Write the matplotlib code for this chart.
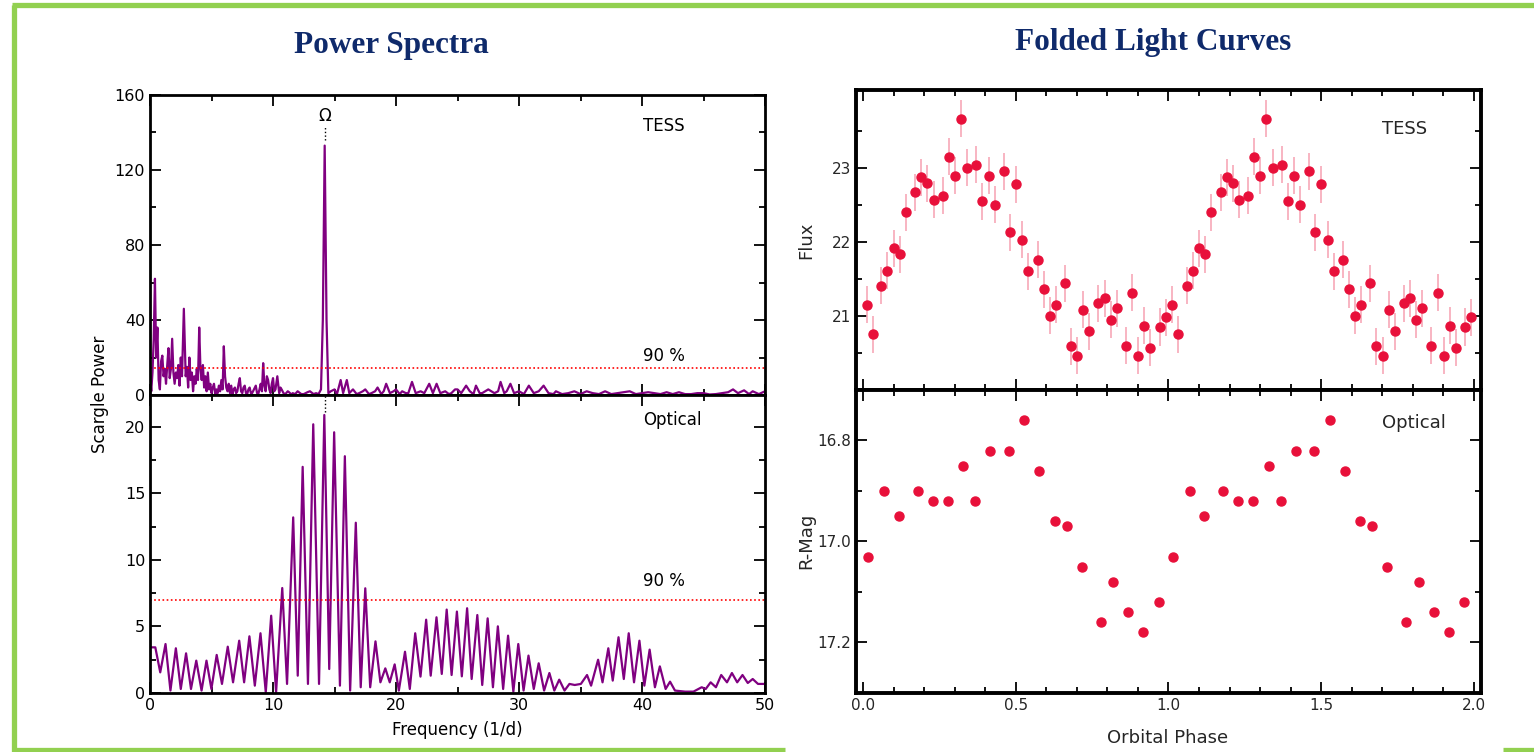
import numpy as np
import matplotlib
matplotlib.use("Agg")
import matplotlib.pyplot as plt
from matplotlib.lines import Line2D
from matplotlib.ticker import MultipleLocator, FixedLocator, FormatStrFormatter

# ---- TESS Lomb-Scargle power spectrum (frequency, power) ----
tess_spectrum = [
    (0.0, 10), (0.1, 2), (0.2, 12), (0.3, 30), (0.4, 62), (0.5, 20), (0.6, 36), (0.7, 8),
    (0.8, 3), (0.9, 18), (1.0, 21), (1.1, 10), (1.2, 14), (1.3, 6), (1.4, 16), (1.5, 25),
    (1.6, 9), (1.7, 14), (1.8, 30), (1.9, 12), (2.0, 6), (2.1, 12), (2.2, 9), (2.3, 16),
    (2.4, 5), (2.5, 20), (2.6, 10), (2.75, 46), (2.9, 10), (3.0, 15), (3.1, 4), (3.2, 20),
    (3.3, 8), (3.4, 12), (3.5, 2), (3.6, 10), (3.7, 6), (3.8, 14), (3.9, 8), (4.0, 36),
    (4.1, 14), (4.2, 8), (4.3, 16), (4.4, 4), (4.5, 10), (4.6, 2), (4.7, 12), (4.8, 3),
    (4.9, 6), (5.0, 1), (5.1, 4), (5.2, 6), (5.3, 0.5), (5.4, 3), (5.5, 1), (5.6, 5),
    (5.7, 2), (5.8, 8), (5.9, 3), (6.0, 26), (6.1, 10), (6.2, 4), (6.3, 2), (6.4, 6),
    (6.5, 1), (6.6, 5), (6.7, 0.5), (6.8, 3), (6.9, 4), (7.0, 1), (7.1, 2), (7.2, 6),
    (7.3, 9), (7.4, 2), (7.5, 1), (7.6, 4), (7.7, 5), (7.8, 1), (7.9, 0.5), (8.0, 3),
    (8.1, 4), (8.2, 1), (8.3, 1), (8.45, 3), (8.6, 5), (8.7, 1), (8.8, 0.5), (8.9, 3),
    (9.0, 6), (9.1, 2), (9.2, 17), (9.3, 5), (9.4, 2), (9.5, 10), (9.6, 8), (9.7, 3),
    (9.8, 1), (9.9, 6), (10.0, 9), (10.1, 2), (10.2, 3), (10.35, 10), (10.5, 1), (10.6, 4),
    (10.7, 3), (10.85, 1), (11.0, 0.5), (11.2, 2), (11.3, 1.5), (11.5, 0.3), (11.6, 1),
    (11.8, 0.5), (12.0, 2), (12.3, 0.5), (12.5, 0.5), (12.8, 1.5), (13.0, 2), (13.3, 0.5),
    (13.5, 1), (13.7, 0.5), (13.9, 3), (14.05, 40), (14.2, 133), (14.35, 40), (14.5, 1),
    (14.7, 2), (15.0, 3), (15.2, 0.5), (15.5, 8), (15.7, 1), (16.0, 8), (16.2, 1), (16.5, 3),
    (16.8, 0.5), (17.0, 1), (17.3, 2), (17.5, 3), (17.8, 0.5), (18.0, 1), (18.3, 2), (18.5, 4),
    (18.8, 0.5), (19.0, 2), (19.2, 6), (19.5, 1), (19.8, 2), (20.0, 3), (20.3, 0.5), (20.5, 2),
    (20.8, 1), (21.0, 1), (21.3, 7), (21.6, 1), (22.0, 2), (22.3, 1), (22.7, 6), (23.0, 1),
    (23.3, 6), (23.6, 1), (24.0, 2), (24.3, 0.5), (24.5, 1), (24.8, 3), (25.0, 3), (25.3, 1),
    (25.7, 5), (26.0, 2), (26.3, 0.5), (26.5, 5), (26.8, 1), (27.0, 1), (27.5, 3), (28.0, 1),
    (28.3, 2), (28.5, 7), (28.8, 1), (29.0, 2), (29.3, 6), (29.6, 1), (30.0, 2), (30.4, 0.5),
    (30.8, 5), (31.2, 1), (31.6, 2), (32.0, 5), (32.4, 1), (32.8, 0.5), (33.0, 2), (33.5, 0.5),
    (34.0, 1), (34.5, 2), (35.0, 0.5), (35.5, 2), (36.0, 1), (36.5, 0.5), (37.0, 2),
    (37.5, 0.5), (38.0, 1), (38.5, 1.5), (39.0, 2), (39.5, 0.5), (40.0, 1), (40.5, 1.5),
    (41.0, 1), (41.5, 0.5), (42.0, 1.5), (42.5, 0.5), (43.0, 1.5), (43.5, 0.5), (44.0, 0.5),
    (44.5, 1), (45.0, 1), (45.5, 0.3), (46.0, 0.5), (46.5, 1), (47.0, 1.5), (47.4, 3),
    (47.8, 1), (48.3, 2.5), (48.7, 0.5), (49.0, 2), (49.5, 0.5), (50.0, 2),
]
tess_freq = [f for f, p in tess_spectrum]
tess_power = [p for f, p in tess_spectrum]

# ---- Optical power spectrum ----
opt_freq = [0.1, 0.43, 0.83, 1.26, 1.66, 2.10, 2.50, 2.93, 3.33, 3.76, 4.19, 4.59, 4.99,
            5.42, 5.85, 6.32, 6.75, 7.25, 7.65, 8.08, 8.52, 8.98, 9.41, 9.85, 10.25, 10.75,
            11.14, 11.64, 12.01, 12.41, 12.84, 13.27, 13.74, 14.17, 14.57, 14.97, 15.44,
            15.84, 16.27, 16.73, 17.13, 17.50, 17.90, 18.33, 18.73, 19.13, 19.49, 19.89,
            20.23, 20.73, 21.12, 21.56, 21.99, 22.45, 22.82, 23.29, 23.72, 24.12, 24.52,
            24.95, 25.35, 25.78, 26.15, 26.61, 27.01, 27.45, 27.88, 28.28, 28.71, 29.11,
            29.54, 29.94, 30.37, 30.77, 31.20, 31.60, 32.04, 32.47, 32.87, 33.27, 33.70,
            34.10, 34.53, 35.03, 35.53, 35.86, 36.43, 36.79, 37.26, 37.62, 38.09, 38.52,
            38.92, 39.35, 39.79, 40.19, 40.62, 41.05, 41.45, 41.92, 42.28, 42.68, 43.51,
            44.18, 44.85, 45.18, 45.58, 46.01, 46.44, 46.91, 47.31, 47.74, 48.17, 48.60,
            49.00, 49.43, 50.0]
opt_power = [3.43, 3.43, 1.55, 3.68, 0.18, 3.36, 0.3, 2.98, 0.3, 2.43, 0.18, 2.43, 0.3,
             2.86, 0.68, 3.48, 0.8, 3.93, 0.8, 4.26, 0.55, 4.49, 0.05, 5.81, 0.05, 7.89,
             0.68, 13.2, 1.3, 17.0, 0.68, 20.2, 0.68, 20.9, 1.8, 19.6, 0.55,
             17.8, 0.18, 12.8, 0.43, 7.87, 0.43, 3.88, 0.8, 1.85, 0.8, 2.15,
             0.18, 3.1, 0.3, 4.49, 1.23, 5.51, 1.3, 5.69, 1.43, 6.27, 1.35,
             6.12, 1.25, 6.37, 1.05, 5.86, 0.6, 5.61, 0.43, 5.01, 0.3, 4.31,
             0.1, 3.68, 0.18, 2.81, 0.3, 2.23, 0.18, 1.5, 0.18, 1.0, 0.18,
             0.68, 0.6, 0.68, 1.35, 0.55, 2.5, 0.8, 3.36, 0.93, 4.19, 1.05,
             4.49, 0.8, 3.93, 0.55, 3.26, 0.43, 2.0, 0.3, 0.85, 0.18, 0.1,
             0.1, 0.43, 0.3, 0.8, 0.43, 1.35, 0.8, 1.5, 0.8, 1.35, 0.75,
             1.05, 0.68, 0.68]

tess_level = 14.3   # 90 % significance
opt_level = 7.0
omega_freq = 14.2

# ---- folded TESS light curve (one cycle, shown twice) ----
tess_phase = [0.012, 0.032, 0.060, 0.080, 0.100, 0.120, 0.140, 0.171, 0.191, 0.211,
              0.231, 0.261, 0.281, 0.301, 0.321, 0.341, 0.371, 0.391, 0.411, 0.431,
              0.461, 0.481, 0.501, 0.521, 0.541, 0.572, 0.592, 0.612, 0.632, 0.661,
              0.681, 0.701, 0.721, 0.741, 0.771, 0.791, 0.811, 0.831, 0.861, 0.881,
              0.901, 0.921, 0.941, 0.971, 0.991]
tess_flux = [21.15, 20.75, 21.41, 21.61, 21.91, 21.83, 22.40, 22.67, 22.87, 22.79,
             22.57, 22.62, 23.15, 22.89, 23.66, 23.00, 23.04, 22.55, 22.89, 22.50,
             22.95, 22.13, 22.78, 22.03, 21.60, 21.76, 21.36, 21.00, 21.15, 21.44,
             20.59, 20.46, 21.08, 20.79, 21.17, 21.24, 20.95, 21.10, 20.60, 21.31,
             20.46, 20.87, 20.57, 20.85, 20.98]
tess_err = 0.25

# ---- folded optical R-band light curve ----
opt_phase = [0.016, 0.069, 0.117, 0.179, 0.228, 0.277, 0.328, 0.368, 0.417, 0.477,
             0.528, 0.577, 0.628, 0.668, 0.717, 0.779, 0.819, 0.868, 0.917, 0.968]
opt_mag = [17.03, 16.90, 16.95, 16.90, 16.92, 16.92, 16.85, 16.92, 16.82, 16.82,
           16.76, 16.86, 16.96, 16.97, 17.05, 17.16, 17.08, 17.14, 17.18, 17.12]

purple = '#800080'
dot_red = '#E8103A'
bar_pink = '#F7A8B8'
navy = '#0F2A6B'
green = '#92D050'
grey = '#262626'

plt.rcParams['font.family'] = 'DejaVu Sans'

fig = plt.figure(figsize=(15.34, 7.52), dpi=100)

# green frame
for xs, ys in [([0.008, 1.0], [0.9935, 0.9935]),
               ([0.0094, 0.0094], [0.0, 0.9935]),
               ([0.008, 0.512], [0.003, 0.003]),
               ([0.980, 1.0], [0.003, 0.003])]:
    fig.add_artist(Line2D(xs, ys, color=green, lw=3.8, solid_capstyle='butt'))

fig.text(0.255, 0.940, 'Power Spectra', ha='center', va='center', fontsize=22.5,
         fontweight='bold', family='Liberation Serif', color=navy)
fig.text(0.7516, 0.944, 'Folded Light Curves', ha='center', va='center', fontsize=22.5,
         fontweight='bold', family='Liberation Serif', color=navy)


def style(ax, lw, color='black', size=11.5):
    for s in ax.spines.values():
        s.set_linewidth(lw)
    ax.tick_params(which='both', direction='in', top=True, right=True,
                   labelsize=size, labelcolor=color, width=1.3)
    ax.tick_params(which='major', length=8)
    ax.tick_params(which='minor', length=4)


# ---- left: power spectra ----
ax1 = fig.add_axes([0.0978, 0.4747, 0.4009, 0.399])
ax2 = fig.add_axes([0.0978, 0.0785, 0.4009, 0.3962], sharex=ax1)

ax1.plot(tess_freq, tess_power, color=purple, lw=1.6)
ax1.axhline(tess_level, color='red', ls=(0, (1, 1.5)), lw=1.2)
ax1.plot([omega_freq, omega_freq], [136, 143], color='black', ls=':', lw=1)
ax1.text(omega_freq, 149, 'Ω', ha='center', va='center', fontsize=12)
ax1.text(40.1, 143.7, 'TESS', ha='left', va='center', fontsize=12)
ax1.text(40.1, 20.6, '90 %', ha='left', va='center', fontsize=12)
ax1.set_xlim(0, 50)
ax1.set_ylim(0, 160)
ax1.yaxis.set_major_locator(MultipleLocator(40))
ax1.yaxis.set_minor_locator(MultipleLocator(20))
ax1.xaxis.set_major_locator(MultipleLocator(10))
ax1.xaxis.set_minor_locator(MultipleLocator(5))
style(ax1, 2.0)
plt.setp(ax1.get_xticklabels(), visible=False)

ax2.plot(opt_freq, opt_power, color=purple, lw=1.6)
ax2.axhline(opt_level, color='red', ls=(0, (1, 1.5)), lw=1.2)
ax2.plot([omega_freq, omega_freq], [21.1, 22.4], color='black', ls=':', lw=1)
ax2.text(40.1, 20.5, 'Optical', ha='left', va='center', fontsize=12)
ax2.text(40.1, 8.45, '90 %', ha='left', va='center', fontsize=12)
ax2.set_ylim(0, 22.4)
ax2.yaxis.set_major_locator(MultipleLocator(5))
ax2.yaxis.set_minor_locator(MultipleLocator(2.5))
style(ax2, 2.0)

fig.text(0.065, 0.475, 'Scargle Power', rotation=90, ha='center', va='center', fontsize=12)
fig.text(0.298, 0.029, 'Frequency (1/d)', ha='center', va='center', fontsize=12)

# ---- right: folded light curves ----
ax3 = fig.add_axes([0.558, 0.4814, 0.4074, 0.399])
ax4 = fig.add_axes([0.558, 0.0785, 0.4074, 0.4029], sharex=ax3)

for shift in (0.0, 1.0):
    ph = np.array(tess_phase) + shift
    ax3.errorbar(ph, tess_flux, yerr=tess_err, fmt='o', color=dot_red, ms=6.5,
                 ecolor=bar_pink, elinewidth=1.2, capsize=0, mec=dot_red)
    ax4.plot(np.array(opt_phase) + shift, opt_mag, 'o', color=dot_red, ms=6.5)

ax3.text(1.70, 23.52, 'TESS', ha='left', va='center', fontsize=13, color=grey)
ax3.set_xlim(-0.023, 2.023)
ax3.set_ylim(20.0, 24.05)
ax3.yaxis.set_major_locator(FixedLocator([21, 22, 23]))
ax3.yaxis.set_minor_locator(FixedLocator([20.5, 21.5, 22.5, 23.5]))
ax3.xaxis.set_major_locator(MultipleLocator(0.5))
ax3.xaxis.set_minor_locator(MultipleLocator(0.1))
style(ax3, 2.8, grey, 11)
plt.setp(ax3.get_xticklabels(), visible=False)

ax4.text(1.70, 16.765, 'Optical', ha='left', va='center', fontsize=13, color=grey)
ax4.set_ylim(17.3, 16.7)
ax4.yaxis.set_major_locator(FixedLocator([16.8, 17.0, 17.2]))
ax4.yaxis.set_minor_locator(FixedLocator([16.9, 17.1]))
ax4.yaxis.set_major_formatter(FormatStrFormatter('%.1f'))
ax4.xaxis.set_major_formatter(FormatStrFormatter('%.1f'))
style(ax4, 2.8, grey, 11)

fig.text(0.5255, 0.681, 'Flux', rotation=90, ha='center', va='center', fontsize=13,
         color=grey)
fig.text(0.5255, 0.281, 'R-Mag', rotation=90, ha='center', va='center', fontsize=13,
         color=grey)
fig.text(0.7608, 0.0186, 'Orbital Phase', ha='center', va='center', fontsize=13, color=grey)

fig.savefig('out.png', dpi=100)
